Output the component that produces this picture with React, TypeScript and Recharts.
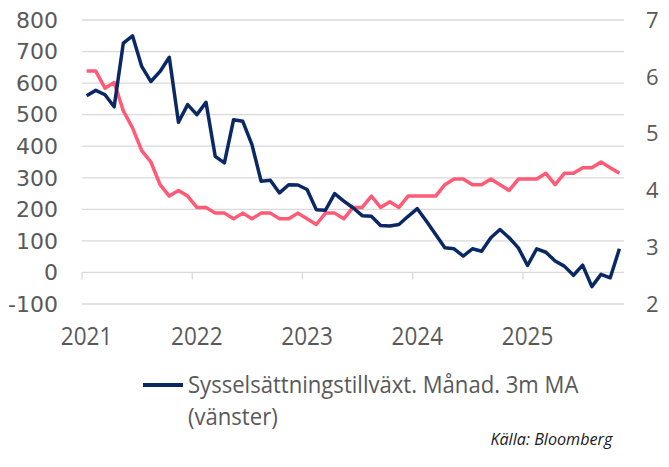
import { LineChart, Line, XAxis, YAxis, CartesianGrid, ReferenceLine } from "recharts";

// Monthly series, first point = first month of 2021 band
const JOBS = [
  560, 577, 563, 525, 727, 750, 653, 605, 637, 682, 476, 532,
  500, 539, 368, 347, 484, 479, 405, 289, 292, 252, 278, 277,
  263, 199, 197, 250, 226, 205, 180, 178, 149, 147, 152, 178,
  202, 162, 120, 78, 75, 52, 75, 67, 110, 136, 110, 78,
  22, 75, 64, 36, 20, -9, 23, -45, -6, -17, 75,
];
const RATE = [
  6.1, 6.1, 5.8, 5.9, 5.4, 5.1, 4.7, 4.5, 4.1, 3.9, 4.0, 3.9,
  3.7, 3.7, 3.6, 3.6, 3.5, 3.6, 3.5, 3.6, 3.6, 3.5, 3.5, 3.6,
  3.5, 3.4, 3.6, 3.6, 3.5, 3.7, 3.7, 3.9, 3.7, 3.8, 3.7, 3.9,
  3.9, 3.9, 3.9, 4.1, 4.2, 4.2, 4.1, 4.1, 4.2, 4.1, 4.0, 4.2,
  4.2, 4.2, 4.3, 4.1, 4.3, 4.3, 4.4, 4.4, 4.5, 4.4, 4.3,
];
const YEARS = ["2021", "2022", "2023", "2024", "2025"];
const YEAR_STARTS = [0, 12, 24, 36, 48];
const LEFT_TICKS = [-100, 0, 100, 200, 300, 400, 500, 600, 700, 800];
const RIGHT_TICKS = [2, 3, 4, 5, 6, 7];

const NAVY = "#0a2864";
const PINK = "#ff5a76";
const GRID = "#d9d9d9";
const TEXT = "#595959";
const SANS = "'Open Sans', sans-serif";

const rows = JOBS.map((v, i) => ({ x: i + 0.5, jobs: v, rate: RATE[i] }));

// the source font is a condensed sans; squeeze Open Sans horizontally
function YearTick({ x, y, payload }: any) {
  return (
    <text x={x} y={y} dy="0.71em" textAnchor="middle" fontSize={25} fill={TEXT} fontFamily={SANS}
      transform={`translate(${x} 0) scale(0.9 1) translate(${-x} 0)`}>
      {YEARS[Math.round((payload.value - 0.5) / 12)]}
    </text>
  );
}

export default function App() {
  return (
    <div style={{ position: "absolute", left: 0, top: 0, width: 669, height: 467, background: "#fff" }}>
      <LineChart width={669} height={360} data={rows} margin={{ top: 20, right: 0, bottom: 0, left: 0 }}>
        <CartesianGrid yAxisId="left" vertical={false} stroke={GRID} strokeWidth={1.3} />
        <XAxis
          dataKey="x" type="number" domain={[0, 59]} ticks={YEAR_STARTS.map((m) => m + 0.5)} interval={0}
          axisLine={false} tickLine={false} tickSize={0} tickMargin={23} height={56}
          tick={<YearTick />}
        />
        <YAxis
          yAxisId="left" domain={[-100, 800]} ticks={LEFT_TICKS} interval={0} width={82}
          axisLine={false} tickLine={false} tickSize={0} tickMargin={24}
          tick={{ fontSize: 22, fill: TEXT, fontFamily: "'DejaVu Sans', sans-serif" }}
        />
        <YAxis
          yAxisId="right" orientation="right" domain={[2, 7]} ticks={RIGHT_TICKS} interval={0} width={45}
          axisLine={false} tickLine={false} tickSize={0} tickMargin={22}
          tick={{ fontSize: 22, fill: TEXT, fontFamily: SANS }}
        />
        {YEAR_STARTS.map((m) => (
          <ReferenceLine key={m} yAxisId="left" segment={[{ x: m, y: 0 }, { x: m, y: -22 }]} stroke={GRID} strokeWidth={1.3} />
        ))}
        <Line yAxisId="right" dataKey="rate" stroke={PINK} strokeWidth={3.5} dot={false} isAnimationActive={false} strokeLinejoin="round" />
        <Line yAxisId="left" dataKey="jobs" stroke={NAVY} strokeWidth={3.5} dot={false} isAnimationActive={false} strokeLinejoin="round" />
      </LineChart>

      <div style={{ position: "absolute", left: 143, top: 368, fontFamily: SANS, fontSize: 23, lineHeight: "32px", color: TEXT }}>
        <span style={{ position: "absolute", left: 0, top: 15, width: 40, height: 3.5, background: NAVY }} />
        <div style={{ marginLeft: 45, whiteSpace: "nowrap", transform: "scaleX(0.96)", transformOrigin: "left" }}>
          Sysselsättningstillväxt. Månad. 3m MA<br />(vänster)
        </div>
      </div>
      <div style={{ position: "absolute", right: 57, top: 429, fontFamily: SANS, fontSize: 17, lineHeight: "20px", fontStyle: "italic", color: "#1a1a1a", transform: "scaleX(0.95)", transformOrigin: "right" }}>
        Källa: Bloomberg
      </div>
    </div>
  );
}
